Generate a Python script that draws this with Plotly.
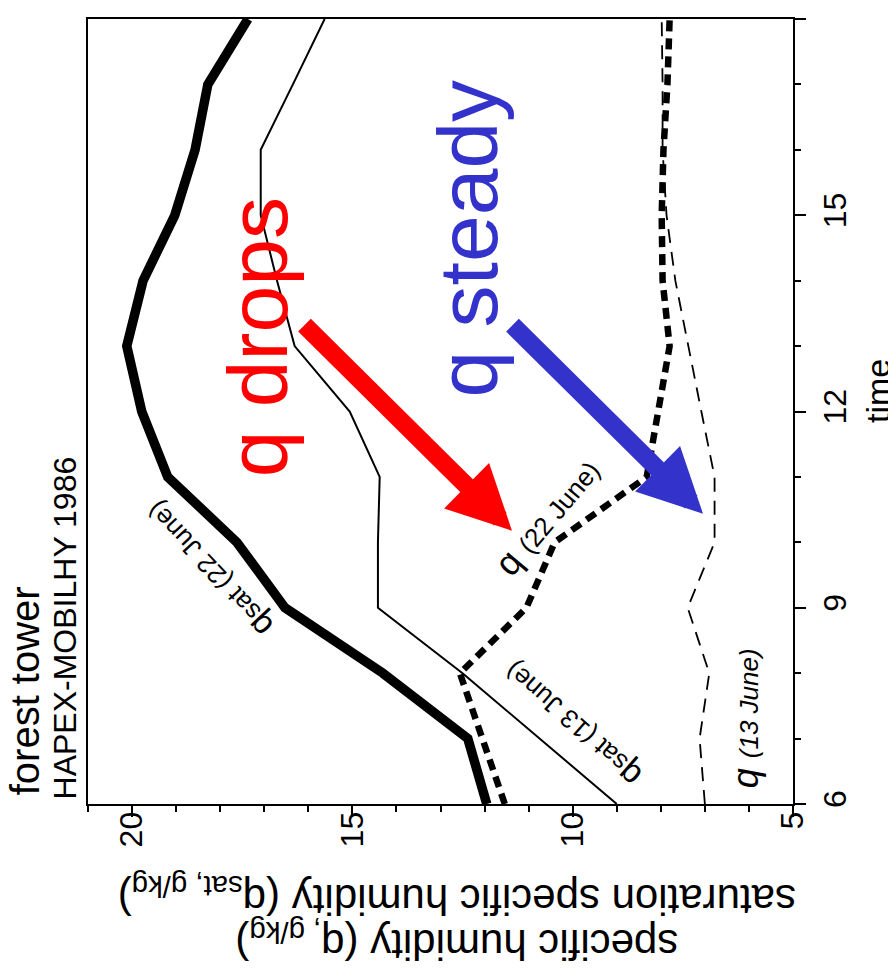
import plotly.graph_objects as go

# ---- data ----
time_h = [6, 7, 8, 9, 10, 11, 12, 13, 14, 15, 16, 17, 18]
qsat_22june = [11.95, 12.38, 14.31, 16.53, 17.62, 19.19, 19.78, 20.12, 19.75, 19.03, 18.57, 18.28, 17.37]
qsat_13june = [9.0, 10.75, 12.5, 14.42, 14.42, 14.38, 15.06, 16.31, 16.71, 17.08, 17.08, 16.35, 15.63]
q_22june = [11.54, 12.04, 12.56, 11.05, 10.41, 8.32, 8.05, 7.80, 7.96, 7.98, 7.94, 7.85, 7.80]
q_13june = [7.0, 7.12, 6.9, 7.39, 6.78, 6.78, 7.08, 7.37, 7.67, 7.87, 7.96, 7.96, 7.98]

hum_ticks = [5, 10, 15, 20]
time_ticks = [6, 9, 12, 15, 18]

FONT = "Liberation Sans, Arial, Helvetica, sans-serif"

# page has an 8px body margin; the figure sits at (8, 8)
OFF = 8
# plot area in page pixels
L, R, T, B = 88, 793, 17, 804
PAGE_W, PAGE_H = 896, 978
W, H = PAGE_W - OFF, PAGE_H - OFF


def px(x):
    return (x - L) / (R - L)


def py(y):
    return (B - y) / (B - T)


fig = go.Figure()
fig.add_trace(go.Scatter(x=qsat_22june, y=time_h, mode="lines",
                         line=dict(color="black", width=9.5), showlegend=False))
fig.add_trace(go.Scatter(x=qsat_13june, y=time_h, mode="lines",
                         line=dict(color="black", width=2), showlegend=False))
fig.add_trace(go.Scatter(x=q_22june, y=time_h, mode="lines",
                         line=dict(color="black", width=6.5, dash="11px,7px"), showlegend=False))
fig.add_trace(go.Scatter(x=q_13june, y=time_h, mode="lines",
                         line=dict(color="black", width=1.8, dash="14px,9px"), showlegend=False))

annotations = []


def txt(text, x, y, size, angle, color="black"):
    annotations.append(dict(text=text, x=px(x), y=py(y), xref="paper", yref="paper",
                            showarrow=False, textangle=angle, xanchor="center", yanchor="middle",
                            font=dict(family=FONT, size=size, color=color)))


txt("forest tower", 25, 691, 40, -90)
txt("HAPEX-MOBILHY 1986", 65, 628, 32, -90)
txt("q drops", 258, 336, 84, -90, "#ff0000")
txt("q steady", 468, 237, 84, -90, "#3333cc")
txt("q <span style='font-size:26px'>(22 June)</span>", 547, 516, 36, -50)
txt("q<span style='font-size:26px'>sat (22 June)</span>", 208, 570, 34, -133)
txt("q<span style='font-size:26px'>sat (13 June)</span>", 572, 725, 34, -139)
txt("<i>q <span style='font-size:26px'>(13 June)</span></i>", 745, 718, 36, -90)
txt("time", 878, 390, 34, -90)
# two-line axis title (upside down); base size sets the tight line spacing
txt("<span style='font-size:42px'>specific humidity (q<sub>, g/kg</sub>)</span><br>"
    "<span style='font-size:42px'>saturation specific humidity (q<sub>sat, g/kg</sub>)</span>",
    457, 920, 35, 180)


def arrow(tail, tip, color):
    annotations.append(dict(text="", x=px(tip[0]), y=py(tip[1]), xref="paper", yref="paper",
                            showarrow=True, ax=tail[0] - tip[0], ay=tail[1] - tip[1],
                            arrowhead=2, arrowwidth=18, arrowsize=0.71, arrowcolor=color,
                            standoff=0))


arrow((303, 323), (512, 530), "#ff0000")
arrow((511, 323), (703, 513), "#3333cc")

fig.update_layout(
    width=W, height=H,
    margin=dict(l=L - OFF, r=PAGE_W - R, t=T - OFF, b=PAGE_H - B),
    plot_bgcolor="white", paper_bgcolor="white",
    annotations=annotations,
    xaxis=dict(range=[21, 5], tickvals=hum_ticks, ticktext=[str(v) for v in hum_ticks],
               ticks="outside", ticklen=11, tickwidth=2, tickcolor="black",
               tickangle=-90, tickfont=dict(family=FONT, size=32, color="black"),
               ticklabelstandoff=-18,
               showline=True, linecolor="black", linewidth=2, mirror=True,
               showgrid=False, zeroline=False,
               minor=dict(dtick=1, tick0=5, ticks="outside", ticklen=6, tickwidth=2,
                          tickcolor="black", showgrid=False)),
    yaxis=dict(range=[6, 18], side="right", tickvals=time_ticks,
               ticktext=[str(v) for v in time_ticks],
               ticks="outside", ticklen=11, tickwidth=2, tickcolor="black",
               tickangle=-90, tickfont=dict(family=FONT, size=32, color="black"),
               ticklabelstandoff=2,
               showline=True, linecolor="black", linewidth=2, mirror=True,
               showgrid=False, zeroline=False,
               minor=dict(dtick=1, tick0=6, ticks="outside", ticklen=6, tickwidth=2,
                          tickcolor="black", showgrid=False)),
)

fig.write_html("out.html")
